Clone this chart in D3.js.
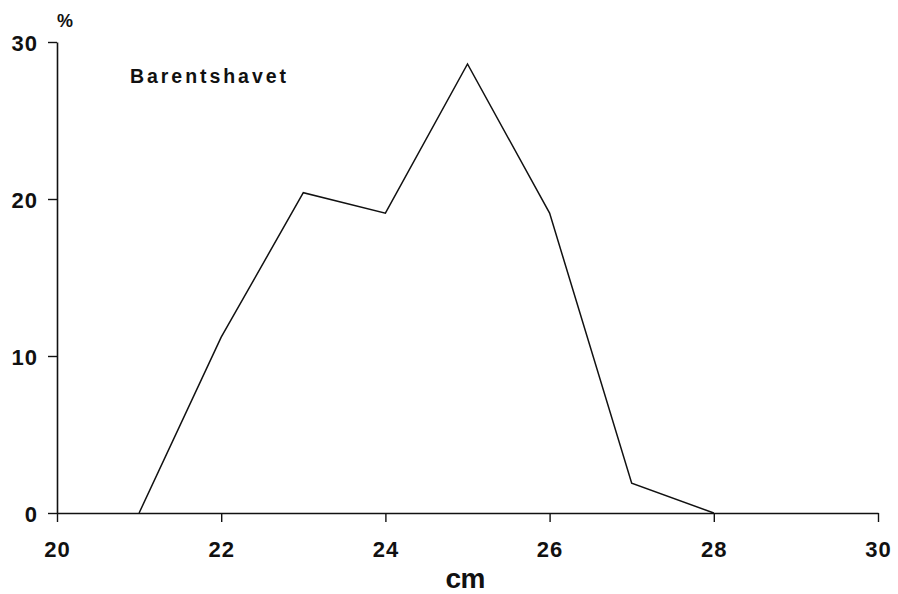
<!DOCTYPE html>
<html>
<head>
<meta charset="utf-8">
<script src="https://cdn.jsdelivr.net/npm/d3@7"></script>
<style>
  html, body { margin: 0; padding: 0; background: #fff; }
  svg { display: block; }
  text { font-family: "Liberation Sans", Arial, Helvetica, sans-serif; font-weight: bold; fill: #111; }
</style>
</head>
<body>
<svg id="chart" width="898" height="594"></svg>
<script>
// Length distribution (cm) and share of catch (%)
const lengthsCm = [21, 22, 23, 24, 25, 26, 27, 28];
const percentValues = [0, 11.2, 20.4, 19.1, 28.6, 19.1, 1.9, 0];
const xTicks = [20, 22, 24, 26, 28, 30];
const yTicks = [0, 10, 20, 30];
const regionLabel = "Barentshavet";
const xTitle = "cm";
const yTitle = "%";

const svg = d3.select("#chart");
const x = d3.scaleLinear().domain([20, 30]).range([57, 878]);
const y = d3.scaleLinear().domain([0, 30]).range([513, 42]);

const ink = "#111";
const tickFont = '"Liberation Sans", Arial, sans-serif';

// X axis
const xAxis = svg.append("g")
  .attr("transform", `translate(0,${y(0)})`)
  .call(d3.axisBottom(x).tickValues(xTicks).tickSize(9).tickSizeOuter(0).tickPadding(19));
xAxis.select(".domain").attr("stroke", ink).attr("stroke-width", 1.6);
xAxis.selectAll(".tick line").attr("stroke", ink).attr("stroke-width", 1.4);
xAxis.selectAll(".tick text")
  .attr("font-size", 22).attr("letter-spacing", 1)
  .attr("fill", ink).style("font-family", tickFont);

// Y axis
const yAxis = svg.append("g")
  .attr("transform", `translate(${x(20)},0)`)
  .call(d3.axisLeft(y).tickValues(yTicks).tickSize(9).tickSizeOuter(0).tickPadding(10));
yAxis.select(".domain").attr("stroke", ink).attr("stroke-width", 1.6);
yAxis.selectAll(".tick line").attr("stroke", ink).attr("stroke-width", 1.4);
yAxis.selectAll(".tick text")
  .attr("font-size", 22).attr("letter-spacing", 1).attr("dy", "0.4em")
  .attr("fill", ink).style("font-family", tickFont);

// Distribution line
const line = d3.line()
  .x((d, i) => x(lengthsCm[i]))
  .y(d => y(d));
svg.append("path")
  .datum(percentValues)
  .attr("d", line)
  .attr("fill", "none")
  .attr("stroke", ink)
  .attr("stroke-width", 1.5)
  .attr("stroke-linejoin", "miter");

// Titles
svg.append("text")
  .attr("x", (x(20) + x(30)) / 2 - 2).attr("y", 588)
  .attr("text-anchor", "middle")
  .attr("font-size", 28)
  .attr("textLength", 40)
  .attr("lengthAdjust", "spacing")
  .text(xTitle);

svg.append("text")
  .attr("x", 65).attr("y", 27)
  .attr("text-anchor", "middle")
  .attr("font-size", 18)
  .text(yTitle);

svg.append("text")
  .attr("x", 130).attr("y", 83)
  .attr("font-size", 19.5)
  .attr("textLength", 156)
  .attr("lengthAdjust", "spacing")
  .text(regionLabel);
</script>
</body>
</html>
